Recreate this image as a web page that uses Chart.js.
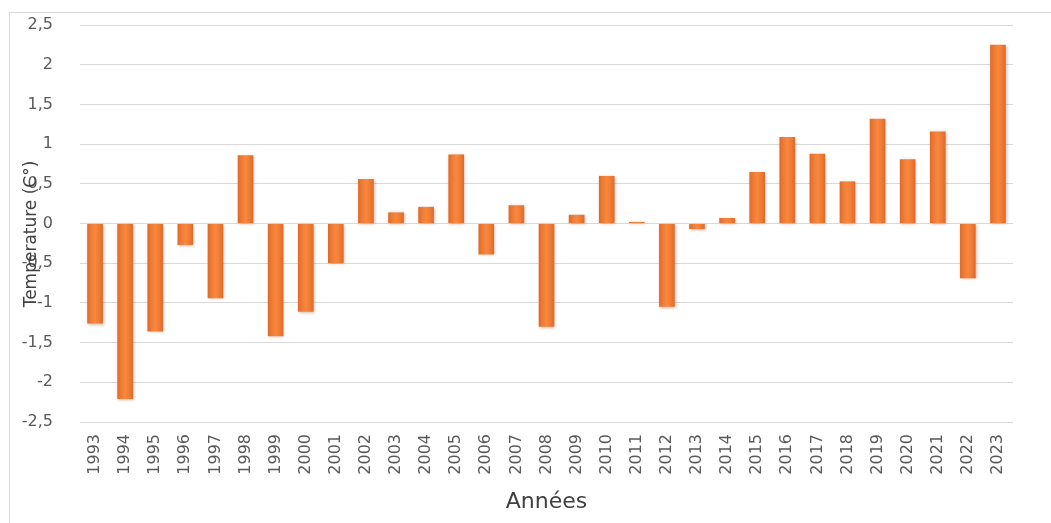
<!DOCTYPE html>
<html lang="fr">
<head>
<meta charset="utf-8">
<title>Anomalies de température 1993–2023</title>
<script src="https://cdn.jsdelivr.net/npm/chart.js@4/dist/chart.umd.min.js"></script>
<style>
  html, body { margin: 0; padding: 0; background: #ffffff; }
  #wrap { width: 1051px; height: 523px; position: relative; }
</style>
</head>
<body>
<div id="wrap"><canvas id="chart" width="1051" height="523"></canvas></div>
<script>
// Années (axe des abscisses)
const years = ['1993','1994','1995','1996','1997','1998','1999','2000','2001','2002',
               '2003','2004','2005','2006','2007','2008','2009','2010','2011','2012',
               '2013','2014','2015','2016','2017','2018','2019','2020','2021','2022','2023'];

// Écart de température annuel (°C)
const anomalies = [-1.26, -2.21, -1.36, -0.27, -0.94, 0.86, -1.42, -1.11, -0.50, 0.56,
                   0.14, 0.21, 0.87, -0.39, 0.23, -1.30, 0.11, 0.60, 0.02, -1.05,
                   -0.07, 0.07, 0.65, 1.09, 0.88, 0.53, 1.32, 0.81, 1.16, -0.69, 2.25];

// Graduations de l'axe vertical
const yTicks = [-2.5, -2, -1.5, -1, -0.5, 0, 0.5, 1, 1.5, 2, 2.5];

const yTitle = 'Temperature (C°)';
const xTitle = 'Années';

const FONT = "'DejaVu Sans', 'Liberation Sans', sans-serif";

// Cadre gris clair autour du graphique
const framePlugin = {
  id: 'frame',
  beforeDraw(chart) {
    const ctx = chart.ctx;
    ctx.save();
    ctx.strokeStyle = '#d9d9d9';
    ctx.lineWidth = 1;
    ctx.strokeRect(9.5, 12.5, 1200, 700);
    ctx.restore();
  }
};

// Dégradé horizontal et ombre légère sur chaque barre
const barShadePlugin = {
  id: 'barShade',
  beforeDatasetsDraw(chart) {
    const ctx = chart.ctx;
    chart.getSortedVisibleDatasetMetas().forEach(meta => {
      meta.data.forEach(bar => {
        const { x, width } = bar.getProps(['x', 'width'], true);
        const g = ctx.createLinearGradient(x - width / 2, 0, x + width / 2, 0);
        g.addColorStop(0, '#dc6a2b');
        g.addColorStop(0.25, '#f07b34');
        g.addColorStop(0.5, '#f7883f');
        g.addColorStop(0.75, '#f07b34');
        g.addColorStop(1, '#dc6a2b');
        bar.options = Object.assign({}, bar.options, { backgroundColor: g });
      });
    });
  },
  beforeDatasetDraw(chart) {
    const ctx = chart.ctx;
    ctx.save();
    ctx.shadowColor = 'rgba(120, 60, 20, 0.35)';
    ctx.shadowBlur = 3;
    ctx.shadowOffsetX = 1;
    ctx.shadowOffsetY = 1;
  },
  afterDatasetDraw(chart) {
    chart.ctx.restore();
  }
};

// Titre de l'axe vertical, posé sur les graduations
const yTitlePlugin = {
  id: 'yTitle',
  afterDraw(chart) {
    const ctx = chart.ctx;
    ctx.save();
    ctx.translate(32, 234);
    ctx.rotate(-Math.PI / 2);
    ctx.font = '17px ' + FONT;
    ctx.fillStyle = '#404040';
    ctx.textAlign = 'center';
    ctx.textBaseline = 'middle';
    ctx.fillText(yTitle, 0, 0);
    ctx.restore();
  }
};

new Chart(document.getElementById('chart'), {
  type: 'bar',
  data: {
    labels: years,
    datasets: [{
      label: yTitle,
      data: anomalies,
      backgroundColor: () => '#ed7d31',
      borderWidth: 0,
      categoryPercentage: 1,
      barPercentage: 0.52
    }]
  },
  options: {
    responsive: false,
    animation: false,
    layout: { padding: { top: 25, right: 38, bottom: 0, left: 0 } },
    plugins: {
      legend: { display: false },
      tooltip: { enabled: false }
    },
    scales: {
      x: {
        grid: { display: false, drawTicks: false },
        border: { display: false },
        ticks: {
          autoSkip: false,
          minRotation: 90,
          maxRotation: 90,
          padding: 12,
          color: '#595959',
          font: { family: FONT, size: 16 }
        },
        title: {
          display: true,
          text: xTitle,
          color: '#404040',
          font: { family: FONT, size: 22 },
          padding: { top: 0, bottom: 8 }
        },
        afterFit(scale) { scale.height = 101; }
      },
      y: {
        min: -2.5,
        max: 2.5,
        afterBuildTicks(scale) { scale.ticks = yTicks.map(v => ({ value: v })); },
        grid: { color: '#d9d9d9', lineWidth: 1, drawTicks: false },
        border: { display: false },
        ticks: {
          padding: 27,
          color: '#595959',
          font: { family: FONT, size: 16 },
          callback: v => String(v).replace('.', ',')
        },
        afterFit(scale) { scale.width = 80; }
      }
    }
  },
  plugins: [framePlugin, barShadePlugin, yTitlePlugin,
    {
      id: 'plotBox',
      afterLayout(chart) {
        // zone de tracé fixe
        const y = chart.scales.y;
        const a = chart.chartArea;
        const top = 25;
        a.top = top;
        a.height = a.bottom - top;
        y.top = top;
        y.height = a.bottom - top;
        y.configure();
      }
    }]
});
</script>
</body>
</html>
